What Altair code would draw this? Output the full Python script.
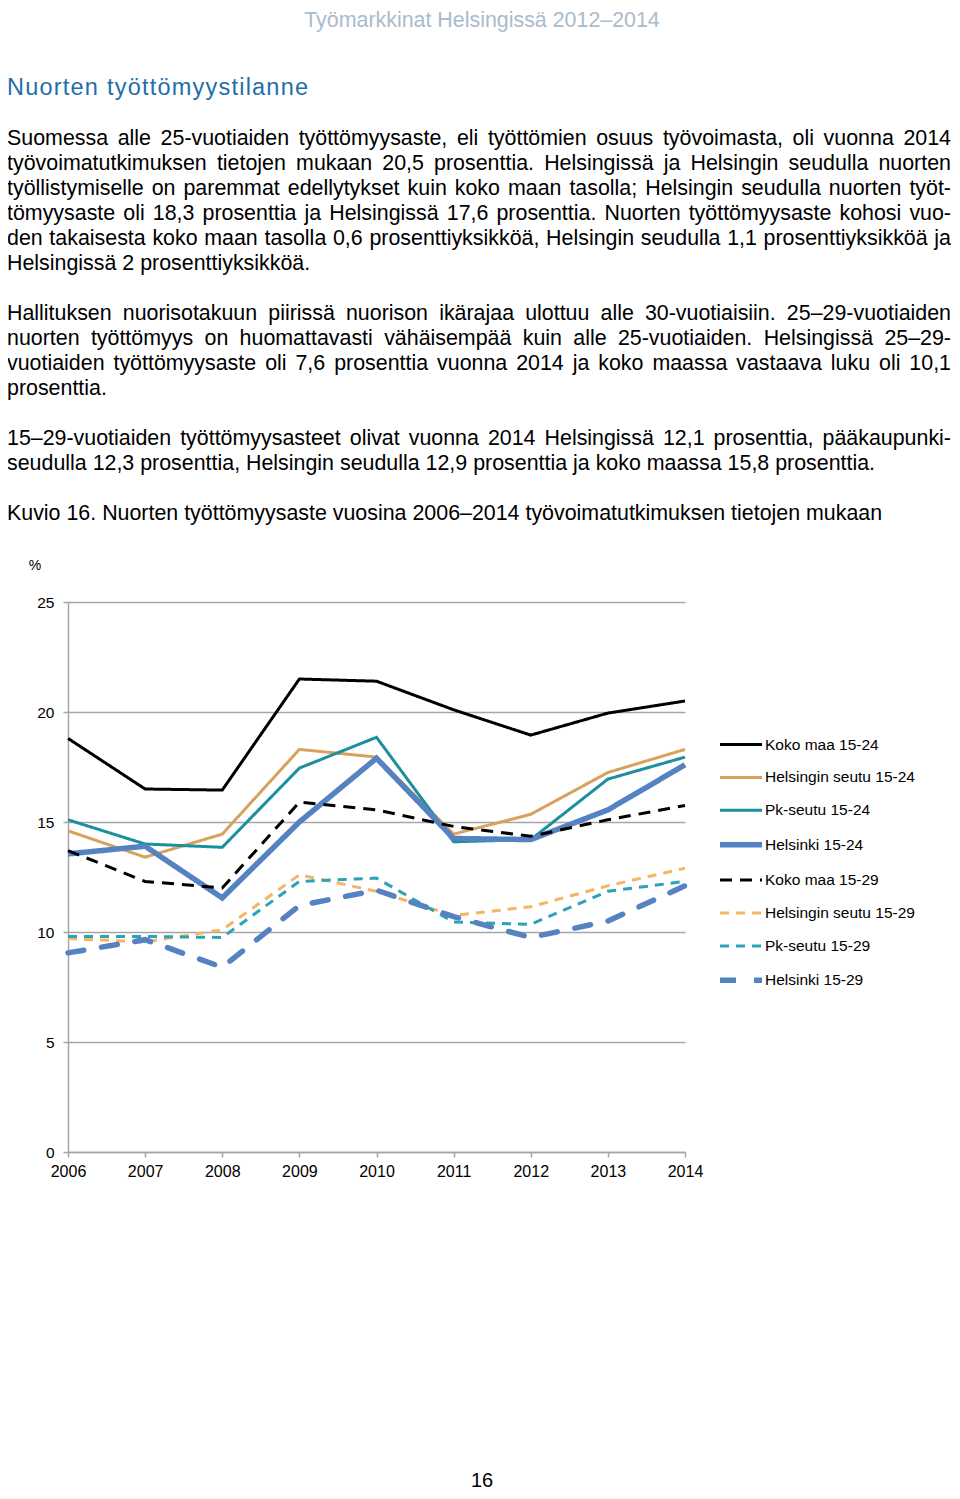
import altair as alt
import pandas as pd

FONT = "Liberation Sans"

# ---------------- data ----------------
years = [2006, 2007, 2008, 2009, 2010, 2011, 2012, 2013, 2014]
series_names = [
    "Koko maa 15-24", "Helsingin seutu 15-24", "Pk-seutu 15-24", "Helsinki 15-24",
    "Koko maa 15-29", "Helsingin seutu 15-29", "Pk-seutu 15-29", "Helsinki 15-29",
]
koko_15_24 = [18.8, 16.5, 16.45, 21.5, 21.4, 20.1, 18.95, 19.95, 20.5]
hseutu_15_24 = [14.6, 13.4, 14.45, 18.3, 17.95, 14.45, 15.35, 17.25, 18.3]
pk_15_24 = [15.1, 14.0, 13.85, 17.45, 18.85, 14.1, 14.2, 16.95, 17.95]
hki_15_24 = [13.55, 13.9, 11.55, 15.0, 17.9, 14.25, 14.2, 15.55, 17.6]
koko_15_29 = [13.7, 12.3, 12.0, 15.9, 15.55, 14.8, 14.35, 15.1, 15.75]
hseutu_15_29 = [9.7, 9.55, 10.1, 12.6, 11.85, 10.75, 11.15, 12.1, 12.9]
pk_15_29 = [9.8, 9.8, 9.75, 12.3, 12.45, 10.45, 10.35, 11.85, 12.3]
hki_15_29 = [9.05, 9.65, 8.4, 11.2, 11.9, 10.7, 9.75, 10.5, 12.1]
y_ticks = [0, 5, 10, 15, 20, 25]

# styles
colors = ["#000000", "#d8a15e", "#1b8f9e", "#5583c2", "#000000", "#f5b565", "#2aa3b8", "#5583c2"]
dashes = [[1, 0], [1, 0], [1, 0], [1, 0], [12, 8], [9, 7], [9, 7], [16, 18]]
widths = [3, 3, 3, 5.5, 3, 3, 3, 5.5]

# text
header = "Työmarkkinat Helsingissä 2012–2014"
heading = "Nuorten työttömyystilanne"
para1 = [
    "Suomessa alle 25-vuotiaiden työttömyysaste, eli työttömien osuus työvoimasta, oli vuonna 2014",
    "työvoimatutkimuksen tietojen mukaan 20,5 prosenttia. Helsingissä ja Helsingin seudulla nuorten",
    "työllistymiselle on paremmat edellytykset kuin koko maan tasolla; Helsingin seudulla nuorten työt-",
    "tömyysaste oli 18,3 prosenttia ja Helsingissä 17,6 prosenttia. Nuorten työttömyysaste kohosi vuo-",
    "den takaisesta koko maan tasolla 0,6 prosenttiyksikköä, Helsingin seudulla 1,1 prosenttiyksikköä ja",
    "Helsingissä 2 prosenttiyksikköä.",
]
para2 = [
    "Hallituksen nuorisotakuun piirissä nuorison ikärajaa ulottuu alle 30-vuotiaisiin. 25–29-vuotiaiden",
    "nuorten työttömyys on huomattavasti vähäisempää kuin alle 25-vuotiaiden. Helsingissä 25–29-",
    "vuotiaiden työttömyysaste oli 7,6 prosenttia vuonna 2014 ja koko maassa vastaava luku oli 10,1",
    "prosenttia.",
]
para3 = [
    "15–29-vuotiaiden työttömyysasteet olivat vuonna 2014 Helsingissä 12,1 prosenttia, pääkaupunki-",
    "seudulla 12,3 prosenttia, Helsingin seudulla 12,9 prosenttia ja koko maassa 15,8 prosenttia.",
]
caption = "Kuvio 16. Nuorten työttömyysaste vuosina 2006–2014 työvoimatutkimuksen tietojen mukaan"
unit_label = "%"
page_number = "16"

# ---------------- layout (page pixels) ----------------
OX, OY = 68, 602          # plot origin on the page
PW, PH = 617, 550         # plot area size
TOTAL_W, TOTAL_H = 944, 1483
BODY_FS = 21.4
LEFT, RIGHT = 7, 951

# Arial / Liberation Sans advance widths (per 1000 em)
AW = {" ": 278, ",": 278, ".": 278, ";": 278, "-": 333, "–": 556, "%": 889}
for c in "0123456789":
    AW[c] = 556
for c, w in zip("abcdefghijklmnopqrstuvwxyz",
                [556, 556, 500, 556, 556, 278, 556, 556, 222, 222, 500, 222, 833,
                 556, 556, 556, 556, 333, 500, 278, 556, 500, 722, 500, 500, 500]):
    AW[c] = w
AW.update({"ä": 556, "ö": 556, "H": 722, "S": 667, "N": 722, "K": 667, "T": 611})


def tw(s, fs):
    return sum(AW.get(c, 556) for c in s) / 1000.0 * fs


def text_layer(s, x, y, size, color="#000000", align="left"):
    return alt.Chart(pd.DataFrame({"t": [s]})).mark_text(
        align=align, baseline="middle", font=FONT, fontSize=size, color=color
    ).encode(text="t:N", x=alt.value(x - OX), y=alt.value(y - OY))


def para_layers(lines, y0):
    out = []
    for i, line in enumerate(lines):
        y = y0 + 25 * i
        last = i == len(lines) - 1
        words = line.split(" ")
        if last or len(words) < 2:
            out.append(text_layer(line, LEFT, y, BODY_FS))
            continue
        natural = sum(tw(w, BODY_FS) for w in words)
        gap = (RIGHT - LEFT - natural) / (len(words) - 1)
        x = LEFT
        for w in words:
            out.append(text_layer(w, x, y, BODY_FS))
            x += tw(w, BODY_FS) + gap
    return out


def spaced_layers(s, x0, x1, y, size, color):
    natural = tw(s, size)
    extra = (x1 - x0 - natural) / (len(s) - 1)
    out = []
    x = x0
    for ch in s:
        if ch != " ":
            out.append(text_layer(ch, x, y, size, color=color))
        x += tw(ch, size) + extra
    return out


# ---------------- chart ----------------
series_values = [koko_15_24, hseutu_15_24, pk_15_24, hki_15_24,
                 koko_15_29, hseutu_15_29, pk_15_29, hki_15_29]
rows = []
for name, vals in zip(series_names, series_values):
    for yr, v in zip(years, vals):
        rows.append({"year": yr, "value": v, "series": name})
df = pd.DataFrame(rows)

leg = alt.Legend(
    title=None, orient="none", legendX=649, legendY=120,
    symbolType="stroke", symbolSize=1764, labelFont=FONT, labelFontSize=15.5,
    labelColor="#000000", labelOffset=0, rowPadding=1.9, labelLimit=300,
)

enc = dict(
    x=alt.X("year:Q", scale=alt.Scale(domain=[2006, 2014], nice=False, zero=False),
            axis=alt.Axis(values=years, format="d", grid=False, title=None,
                          domainColor="#a6a6a6", domainWidth=1.5, tickColor="#a6a6a6",
                          tickSize=5, tickWidth=1.5, labelFont=FONT, labelFontSize=16,
                          labelColor="#000000", labelPadding=6.5, labelFlush=False)),
    y=alt.Y("value:Q", scale=alt.Scale(domain=[0, 25], nice=False),
            axis=alt.Axis(values=y_ticks, grid=True, gridColor="#a6a6a6", gridWidth=1.5,
                          title=None, domainColor="#a6a6a6", domainWidth=1.5,
                          tickColor="#a6a6a6", tickSize=5, tickWidth=1.5,
                          labelFont=FONT, labelFontSize=15.5, labelColor="#000000",
                          labelPadding=9)),
    color=alt.Color("series:N", sort=series_names,
                    scale=alt.Scale(domain=series_names, range=colors), legend=leg),
    strokeDash=alt.StrokeDash("series:N", sort=series_names,
                              scale=alt.Scale(domain=series_names, range=dashes), legend=leg),
    strokeWidth=alt.StrokeWidth("series:N", sort=series_names,
                                scale=alt.Scale(type="ordinal", domain=series_names, range=widths),
                                legend=leg),
    order=alt.Order("year:Q"),
)

base = alt.Chart(df)
lines_main = base.transform_filter(alt.datum.series != "Helsinki 15-29").mark_line(strokeCap="butt").encode(**enc)
lines_hki = base.transform_filter(alt.datum.series == "Helsinki 15-29").mark_line(strokeCap="round").encode(**enc)

layers = [lines_main, lines_hki]
layers.append(text_layer(header, 482, 20.5, 21.4, color="#a9bbcd", align="center"))
layers += spaced_layers(heading, LEFT, 308, 88, 23.5, "#1f6ea8")
layers += para_layers(para1, 139)
layers += para_layers(para2, 314)
layers += para_layers(para3, 439)
layers.append(text_layer(caption, LEFT, 514, BODY_FS))
layers.append(text_layer(unit_label, 35, 566, 14, align="center"))
layers.append(text_layer(page_number, 482, 1481, 20, align="center"))

chart = alt.layer(*layers).properties(
    width=PW, height=PH,
    padding={"left": OX - 8, "top": OY - 8,
             "right": TOTAL_W - (OX - 8) - PW, "bottom": TOTAL_H - (OY - 8) - PH},
    autosize=alt.AutoSizeParams(type="none"),
    background="#ffffff",
).configure_view(strokeWidth=0)

chart.save("out.html", embed_options={"renderer": "svg", "actions": False})
